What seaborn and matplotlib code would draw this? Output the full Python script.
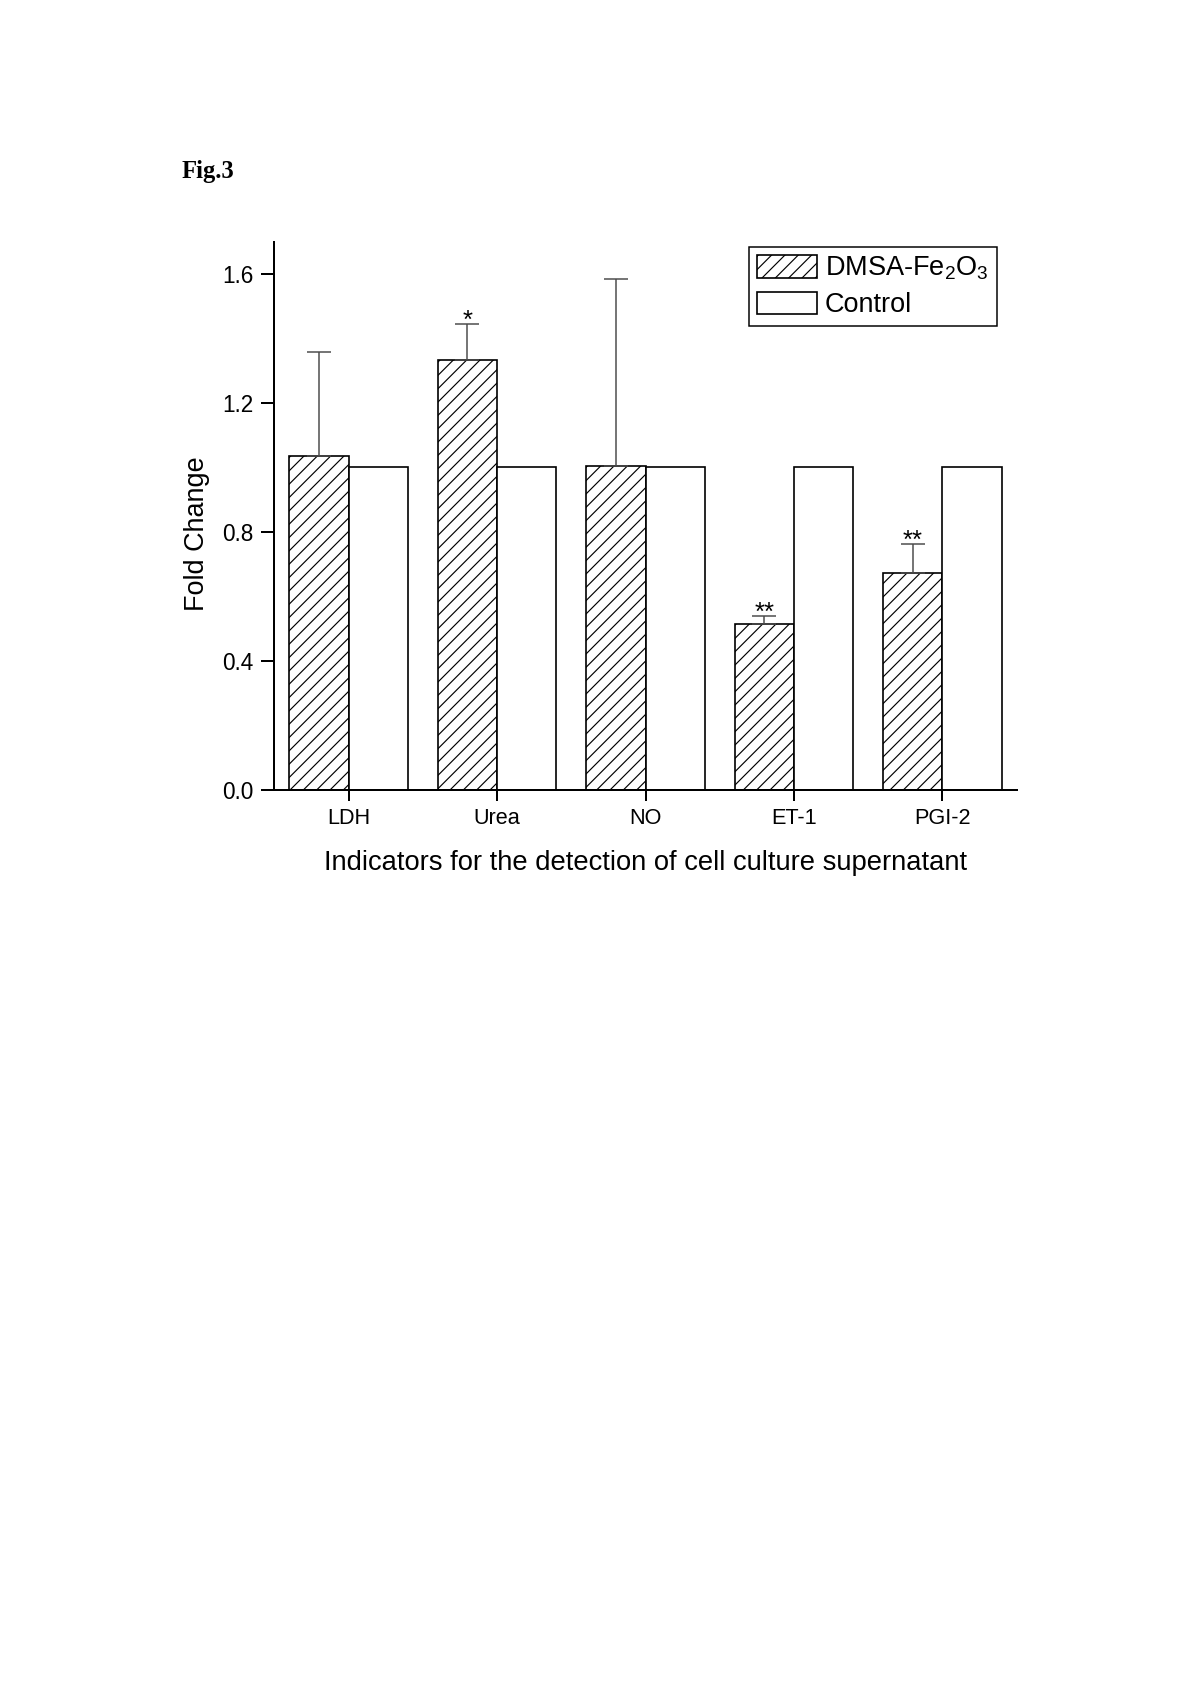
import matplotlib
matplotlib.use("Agg")
import matplotlib.pyplot as plt
import matplotlib.patches as mpatches
import numpy as np
import pandas as pd
import seaborn as sns

# ---- data ----
categories = ["LDH", "Urea", "NO", "ET-1", "PGI-2"]
groups = ["DMSA-Fe$_2$O$_3$", "Control"]
dmsa_values = [1.035, 1.333, 1.005, 0.514, 0.674]
dmsa_err_upper = [0.322, 0.112, 0.579, 0.025, 0.089]
control_values = [1.0, 1.0, 1.0, 1.0, 1.0]
significance = ["", "*", "", "**", "**"]
y_ticks = [0.0, 0.4, 0.8, 1.2, 1.6]
x_label = "Indicators for the detection of cell culture supernatant"
y_label = "Fold Change"
fig_label = "Fig.3"

sns.set_style("ticks")
plt.rcParams["font.family"] = ["Liberation Sans", "DejaVu Sans"]
plt.rcParams["mathtext.default"] = "regular"
plt.rcParams["hatch.linewidth"] = 0.7
plt.rcParams["hatch.color"] = "black"
for k in ["text.color", "axes.labelcolor", "xtick.color", "ytick.color",
          "xtick.labelcolor", "ytick.labelcolor"]:
    plt.rcParams[k] = "black"

df = pd.DataFrame({
    "Indicator": categories * 2,
    "Group": [groups[0]] * len(categories) + [groups[1]] * len(categories),
    "Fold": dmsa_values + control_values,
})

W, H = 1200, 1698
fig = plt.figure(figsize=(10, 14.15), dpi=120)
fig.patch.set_facecolor("white")

left, right = 274.3 / W, 1016.7 / W
bottom, top = 1 - 790 / H, 1 - 241.7 / H
ax = fig.add_axes([left, bottom, right - left, top - bottom])

sns.barplot(data=df, x="Indicator", y="Fold", hue="Group", order=categories,
            hue_order=groups, palette=["white", "white"], edgecolor="black",
            linewidth=1.0, errorbar=None, width=0.8, saturation=1,
            legend=False, ax=ax)

for p in ax.patches:
    cx = p.get_x() + p.get_width() / 2
    if cx < round(cx):
        p.set_hatch("///")

xpos = np.arange(len(categories)) - 0.2
ax.errorbar(xpos, dmsa_values, yerr=[np.zeros(len(categories)), dmsa_err_upper],
            fmt="none", ecolor="#4a4a4a", elinewidth=0.9, capsize=7, capthick=0.9,
            zorder=3)

for xi, v, e, s in zip(xpos, dmsa_values, dmsa_err_upper, significance):
    if s:
        ax.annotate(s, xy=(xi, v + e), xytext=(0, -2.3), textcoords="offset points",
                    ha="center", va="baseline", fontsize=15.5, color="black")

ax.set_xlim(-0.5, 4.5)
ax.set_ylim(0, 1.7)
ax.set_yticks(y_ticks)
ax.set_yticklabels([f"{t:.1f}" for t in y_ticks])
sns.despine(ax=ax)
for sp in ["left", "bottom"]:
    ax.spines[sp].set_linewidth(1.2)
    ax.spines[sp].set_color("black")
ax.tick_params(axis="y", direction="out", length=7.6, width=1.2, pad=4.8,
               labelsize=13.5, colors="black")
ax.tick_params(axis="x", direction="out", length=6.4, width=1.2, pad=4.6,
               labelsize=13, colors="black")
ax.set_xlabel(x_label, fontsize=16.4, labelpad=12.5, color="black")
ax.set_ylabel(y_label, fontsize=16.2, color="black")
ax.yaxis.set_label_coords(-0.0865, 0.467)

handles = [mpatches.Patch(facecolor="white", edgecolor="black", hatch="///",
                          linewidth=1.0, label=groups[0]),
           mpatches.Patch(facecolor="white", edgecolor="black", linewidth=1.0,
                          label=groups[1])]
leg = ax.legend(handles=handles, loc="upper right",
                bbox_to_anchor=(996.7 / W, 1 - 246.7 / H),
                bbox_transform=fig.transFigure, borderaxespad=0,
                fontsize=16.3, handlelength=2.2, handleheight=0.88,
                handletextpad=0.3, borderpad=0.3, labelspacing=0.35,
                fancybox=False, framealpha=1, edgecolor="black")
leg.get_frame().set_linewidth(0.9)
for t in leg.get_texts():
    t.set_color("black")

fig.text(181.7 / W, 1 - 177.7 / H, fig_label, fontsize=14.8, fontweight="bold",
         family=["Liberation Serif", "DejaVu Serif"], va="baseline", ha="left",
         color="black")

fig.savefig("out.png", dpi=120, facecolor="white")
